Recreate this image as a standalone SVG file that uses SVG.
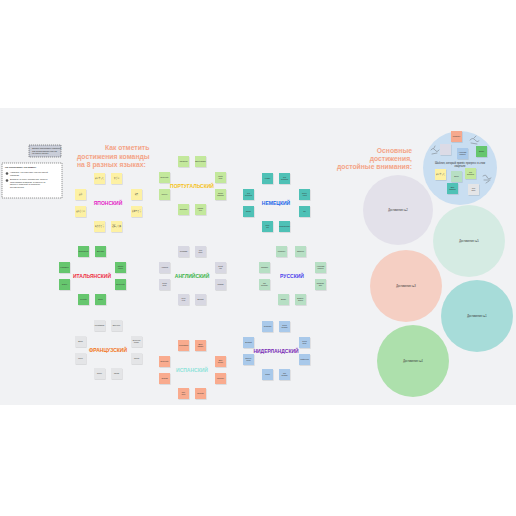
<svg xmlns="http://www.w3.org/2000/svg" width="516" height="516" viewBox="0 0 516 516">
<defs>
<style>
.bg{fill:#f1f2f4}
.sh{fill:#000;opacity:.12}
.t{font-family:"Liberation Sans","Noto Sans CJK JP",sans-serif;font-size:1.8px;fill:#333;text-anchor:middle}
.lbl{font-family:"Liberation Sans",Arial,sans-serif;font-size:5px;font-weight:bold;text-anchor:middle}
.title{font-family:"Liberation Sans",Arial,sans-serif;font-size:6.8px;font-weight:bold;fill:#f4a487}
.ct{font-family:"Liberation Sans",Arial,sans-serif;font-size:2.6px;fill:#333;text-anchor:middle}
.sm{font-family:"Liberation Sans",Arial,sans-serif;font-size:2px;fill:#333}
.jp{fill:#fdf1a4}.pt{fill:#c3e89c}.de{fill:#4fc1b6}.it{fill:#66c66e}.en{fill:#d8d8e2}.ru{fill:#b7dfc4}.fr{fill:#e4e5e7}.es{fill:#f9ab8e}.nl{fill:#a9c9ea}
.doodle{fill:none;stroke:#555;stroke-width:.4;stroke-linecap:round}
</style>
</defs>

<rect class="bg" x="0" y="108" width="516" height="297"/>

<!-- instructions -->
<g id="info-small">
<rect x="29" y="145" width="32" height="12" fill="#c9cdd8" stroke="#333" stroke-width=".5" stroke-dasharray="1.2 .8"/>
<text class="sm" x="32" y="149" font-size="1.8">Шаблон подготовлен командой</text>
<text class="sm" x="32" y="151.5" font-size="1.8">для празднования успехов</text>
<text class="sm" x="32" y="154" font-size="1.8">на разных языках</text>
</g>
<g id="info-box">
<rect x="2" y="163" width="60" height="35" fill="#fff" stroke="#333" stroke-width=".5" stroke-dasharray="1.2 .8"/>
<text class="sm" x="5" y="168" font-weight="bold" font-size="2.2">Как использовать этот шаблон:</text>
<circle cx="7" cy="173.5" r="1.3" fill="#555"/>
<text class="sm" x="10" y="173">Напишите, как отмечают успехи в вашей</text>
<text class="sm" x="10" y="175.6">компании.</text>
<circle cx="7" cy="180.5" r="1.3" fill="#555"/>
<text class="sm" x="10" y="180">Добавьте на доску достижения, которые</text>
<text class="sm" x="10" y="182.6">заслуживают внимания, и отметьте их</text>
<text class="sm" x="10" y="185.2">вместе с командой на любом из</text>
<text class="sm" x="10" y="187.8">восьми языков.</text>
</g>

<g id="title-left">
<text class="title" x="105" y="150">Как отметить</text>
<text class="title" x="77" y="158.5">достижения команды</text>
<text class="title" x="77" y="167">на 8 разных языках:</text>
</g>

<!-- Japanese -->
<g id="japanese" transform="translate(108,203)">
<g class="jp">
<rect class="sh" x="-13.4" y="-29.2" width="11" height="11"/><rect x="-14" y="-30" width="11" height="11"/>
<rect class="sh" x="3.6" y="-29.2" width="11" height="11"/><rect x="3" y="-30" width="11" height="11"/>
<rect class="sh" x="-32.4" y="-13.2" width="11" height="11"/><rect x="-33" y="-14" width="11" height="11"/>
<rect class="sh" x="23.6" y="-13.2" width="11" height="11"/><rect x="23" y="-14" width="11" height="11"/>
<rect class="sh" x="-32.4" y="3.8" width="11" height="11"/><rect x="-33" y="3" width="11" height="11"/>
<rect class="sh" x="23.6" y="3.8" width="11" height="11"/><rect x="23" y="3" width="11" height="11"/>
<rect class="sh" x="-13.4" y="18.8" width="11" height="11"/><rect x="-14" y="18" width="11" height="11"/>
<rect class="sh" x="3.6" y="18.8" width="11" height="11"/><rect x="3" y="18" width="11" height="11"/>
</g>
<text class="t" x="-8.5" y="-24">よくやった</text>
<text class="t" x="8.5" y="-24">すごい</text>
<text class="t" x="-27.5" y="-8">最高</text>
<text class="t" x="28.5" y="-8">完璧</text>
<text class="t" x="-27.5" y="9">素晴らしい</text>
<text class="t" x="28.5" y="9">おめでとう</text>
<text class="t" x="-8.5" y="24">ありがとう</text>
<text class="t" x="8.5" y="24">頑張ったね</text>
<text class="lbl" x="0" y="1.8" fill="#e41fc7">ЯПОНСКИЙ</text>
</g>

<!-- Portuguese -->
<g id="portuguese" transform="translate(192,186)">
<g class="pt">
<rect class="sh" x="-13.4" y="-29.2" width="11" height="11"/><rect x="-14" y="-30" width="11" height="11"/>
<rect class="sh" x="3.6" y="-29.2" width="11" height="11"/><rect x="3" y="-30" width="11" height="11"/>
<rect class="sh" x="-32.4" y="-13.2" width="11" height="11"/><rect x="-33" y="-14" width="11" height="11"/>
<rect class="sh" x="23.6" y="-13.2" width="11" height="11"/><rect x="23" y="-14" width="11" height="11"/>
<rect class="sh" x="-32.4" y="3.8" width="11" height="11"/><rect x="-33" y="3" width="11" height="11"/>
<rect class="sh" x="23.6" y="3.8" width="11" height="11"/><rect x="23" y="3" width="11" height="11"/>
<rect class="sh" x="-13.4" y="18.8" width="11" height="11"/><rect x="-14" y="18" width="11" height="11"/>
<rect class="sh" x="3.6" y="18.8" width="11" height="11"/><rect x="3" y="18" width="11" height="11"/>
</g>
<text class="t" x="-8.5" y="-24">Parabéns</text>
<text class="t" x="8.5" y="-24">Bom trabalho</text>
<text class="t" x="-27.5" y="-8">Excelente</text>
<text class="t" x="28.5" y="-9">Muito</text><text class="t" x="28.5" y="-7">bem</text>
<text class="t" x="-27.5" y="9">Incrível</text>
<text class="t" x="28.5" y="8">Ótimo</text><text class="t" x="28.5" y="10">trabalho</text>
<text class="t" x="-8.5" y="24">Obrigado</text>
<text class="t" x="8.5" y="23">Fantás-</text><text class="t" x="8.5" y="25">tico</text>
<text class="lbl" x="0" y="1.8" fill="#f5c21a">ПОРТУГАЛЬСКИЙ</text>
</g>

<!-- German -->
<g id="german" transform="translate(276,203)">
<g class="de">
<rect class="sh" x="-13.4" y="-29.2" width="11" height="11"/><rect x="-14" y="-30" width="11" height="11"/>
<rect class="sh" x="3.6" y="-29.2" width="11" height="11"/><rect x="3" y="-30" width="11" height="11"/>
<rect class="sh" x="-32.4" y="-13.2" width="11" height="11"/><rect x="-33" y="-14" width="11" height="11"/>
<rect class="sh" x="23.6" y="-13.2" width="11" height="11"/><rect x="23" y="-14" width="11" height="11"/>
<rect class="sh" x="-32.4" y="3.8" width="11" height="11"/><rect x="-33" y="3" width="11" height="11"/>
<rect class="sh" x="23.6" y="3.8" width="11" height="11"/><rect x="23" y="3" width="11" height="11"/>
<rect class="sh" x="-13.4" y="18.8" width="11" height="11"/><rect x="-14" y="18" width="11" height="11"/>
<rect class="sh" x="3.6" y="18.8" width="11" height="11"/><rect x="3" y="18" width="11" height="11"/>
</g>
<text class="t" x="-8.5" y="-24">Klasse</text>
<text class="t" x="8.5" y="-25">Gut</text><text class="t" x="8.5" y="-23">gemacht</text>
<text class="t" x="-27.5" y="-9">Gut</text><text class="t" x="-27.5" y="-7">gemacht</text>
<text class="t" x="28.5" y="-9">Super</text><text class="t" x="28.5" y="-7">Arbeit</text>
<text class="t" x="-27.5" y="9">Danke</text>
<text class="t" x="28.5" y="9">Toll</text>
<text class="t" x="-8.5" y="23">Sehr</text><text class="t" x="-8.5" y="25">gut</text>
<text class="t" x="8.5" y="24">Glückwunsch</text>
<text class="lbl" x="0" y="1.8" fill="#2266e8">НЕМЕЦКИЙ</text>
</g>

<!-- Italian -->
<g id="italian" transform="translate(92,276)">
<g class="it">
<rect class="sh" x="-13.4" y="-29.2" width="11" height="11"/><rect x="-14" y="-30" width="11" height="11"/>
<rect class="sh" x="3.6" y="-29.2" width="11" height="11"/><rect x="3" y="-30" width="11" height="11"/>
<rect class="sh" x="-32.4" y="-13.2" width="11" height="11"/><rect x="-33" y="-14" width="11" height="11"/>
<rect class="sh" x="23.6" y="-13.2" width="11" height="11"/><rect x="23" y="-14" width="11" height="11"/>
<rect class="sh" x="-32.4" y="3.8" width="11" height="11"/><rect x="-33" y="3" width="11" height="11"/>
<rect class="sh" x="23.6" y="3.8" width="11" height="11"/><rect x="23" y="3" width="11" height="11"/>
<rect class="sh" x="-13.4" y="18.8" width="11" height="11"/><rect x="-14" y="18" width="11" height="11"/>
<rect class="sh" x="3.6" y="18.8" width="11" height="11"/><rect x="3" y="18" width="11" height="11"/>
</g>
<text class="t" x="-8.5" y="-24">Complimenti</text>
<text class="t" x="8.5" y="-24">Ben fatto</text>
<text class="t" x="-27.5" y="-8">Fantastico</text>
<text class="t" x="28.5" y="-9">Ottimo</text><text class="t" x="28.5" y="-7">lavoro</text>
<text class="t" x="-27.5" y="9">Grazie</text>
<text class="t" x="28.5" y="9">Eccellente</text>
<text class="t" x="-8.5" y="24">Perfetto</text>
<text class="t" x="8.5" y="24">Bravo</text>
<text class="lbl" x="0" y="1.8" fill="#ee2f45">ИТАЛЬЯНСКИЙ</text>
</g>

<!-- English -->
<g id="english" transform="translate(192,276)">
<g class="en">
<rect class="sh" x="-13.4" y="-29.2" width="11" height="11"/><rect x="-14" y="-30" width="11" height="11"/>
<rect class="sh" x="3.6" y="-29.2" width="11" height="11"/><rect x="3" y="-30" width="11" height="11"/>
<rect class="sh" x="-32.4" y="-13.2" width="11" height="11"/><rect x="-33" y="-14" width="11" height="11"/>
<rect class="sh" x="23.6" y="-13.2" width="11" height="11"/><rect x="23" y="-14" width="11" height="11"/>
<rect class="sh" x="-32.4" y="3.8" width="11" height="11"/><rect x="-33" y="3" width="11" height="11"/>
<rect class="sh" x="23.6" y="3.8" width="11" height="11"/><rect x="23" y="3" width="11" height="11"/>
<rect class="sh" x="-13.4" y="18.8" width="11" height="11"/><rect x="-14" y="18" width="11" height="11"/>
<rect class="sh" x="3.6" y="18.8" width="11" height="11"/><rect x="3" y="18" width="11" height="11"/>
</g>
<text class="t" x="-8.5" y="-24">Congrats</text>
<text class="t" x="8.5" y="-25">Well</text><text class="t" x="8.5" y="-23">done</text>
<text class="t" x="-27.5" y="-8">Amazing</text>
<text class="t" x="28.5" y="-9">Great</text><text class="t" x="28.5" y="-7">job</text>
<text class="t" x="-27.5" y="8">Good</text><text class="t" x="-27.5" y="10">work</text>
<text class="t" x="28.5" y="9">Thanks</text>
<text class="t" x="-8.5" y="23">Keep</text><text class="t" x="-8.5" y="25">it up</text>
<text class="t" x="8.5" y="24">Brilliant</text>
<text class="lbl" x="0" y="1.8" fill="#3bb54a">АНГЛИЙСКИЙ</text>
</g>

<!-- Russian -->
<g id="russian" transform="translate(292,276)">
<g class="ru">
<rect class="sh" x="-15.4" y="-29.2" width="11" height="11"/><rect x="-16" y="-30" width="11" height="11"/>
<rect class="sh" x="3.6" y="-29.2" width="11" height="11"/><rect x="3" y="-30" width="11" height="11"/>
<rect class="sh" x="-32.4" y="-13.2" width="11" height="11"/><rect x="-33" y="-14" width="11" height="11"/>
<rect class="sh" x="23.6" y="-13.2" width="11" height="11"/><rect x="23" y="-14" width="11" height="11"/>
<rect class="sh" x="-32.4" y="3.8" width="11" height="11"/><rect x="-33" y="3" width="11" height="11"/>
<rect class="sh" x="23.6" y="3.8" width="11" height="11"/><rect x="23" y="3" width="11" height="11"/>
<rect class="sh" x="-13.4" y="18.8" width="11" height="11"/><rect x="-14" y="18" width="11" height="11"/>
<rect class="sh" x="3.6" y="18.8" width="11" height="11"/><rect x="3" y="18" width="11" height="11"/>
</g>
<text class="t" x="-10.5" y="-24">Молодец</text>
<text class="t" x="8.5" y="-24">Отлично</text>
<text class="t" x="-27.5" y="-8">Спасибо</text>
<text class="t" x="28.5" y="-9">Хорошая</text><text class="t" x="28.5" y="-7">работа</text>
<text class="t" x="-27.5" y="8">Так</text><text class="t" x="-27.5" y="10">держать</text>
<text class="t" x="28.5" y="8">Поздрав-</text><text class="t" x="28.5" y="10">ляю</text>
<text class="t" x="-8.5" y="24">Браво</text>
<text class="t" x="8.5" y="23">Велико-</text><text class="t" x="8.5" y="25">лепно</text>
<text class="lbl" x="0" y="1.8" fill="#4c44ec">РУССКИЙ</text>
</g>

<!-- French -->
<g id="french" transform="translate(108,350)">
<g class="fr">
<rect class="sh" x="-13.4" y="-29.2" width="11" height="11"/><rect x="-14" y="-30" width="11" height="11"/>
<rect class="sh" x="3.6" y="-29.2" width="11" height="11"/><rect x="3" y="-30" width="11" height="11"/>
<rect class="sh" x="-32.4" y="-13.2" width="11" height="11"/><rect x="-33" y="-14" width="11" height="11"/>
<rect class="sh" x="23.6" y="-13.2" width="11" height="11"/><rect x="23" y="-14" width="11" height="11"/>
<rect class="sh" x="-32.4" y="3.8" width="11" height="11"/><rect x="-33" y="3" width="11" height="11"/>
<rect class="sh" x="23.6" y="3.8" width="11" height="11"/><rect x="23" y="3" width="11" height="11"/>
<rect class="sh" x="-13.4" y="18.8" width="11" height="11"/><rect x="-14" y="18" width="11" height="11"/>
<rect class="sh" x="3.6" y="18.8" width="11" height="11"/><rect x="3" y="18" width="11" height="11"/>
</g>
<text class="t" x="-8.5" y="-24">Félicitations</text>
<text class="t" x="8.5" y="-24">Bien joué</text>
<text class="t" x="-27.5" y="-8">Bravo</text>
<text class="t" x="28.5" y="-9">Excellent</text><text class="t" x="28.5" y="-7">travail</text>
<text class="t" x="-27.5" y="9">Merci</text>
<text class="t" x="28.5" y="9">Génial</text>
<text class="t" x="-8.5" y="24">Super</text>
<text class="t" x="8.5" y="24">Parfait</text>
<text class="lbl" x="0" y="1.8" fill="#f27419">ФРАНЦУЗСКИЙ</text>
</g>

<!-- Spanish -->
<g id="spanish" transform="translate(192,370)">
<g class="es">
<rect class="sh" x="-13.4" y="-29.2" width="11" height="11"/><rect x="-14" y="-30" width="11" height="11"/>
<rect class="sh" x="3.6" y="-29.2" width="11" height="11"/><rect x="3" y="-30" width="11" height="11"/>
<rect class="sh" x="-32.4" y="-13.2" width="11" height="11"/><rect x="-33" y="-14" width="11" height="11"/>
<rect class="sh" x="23.6" y="-13.2" width="11" height="11"/><rect x="23" y="-14" width="11" height="11"/>
<rect class="sh" x="-32.4" y="3.8" width="11" height="11"/><rect x="-33" y="3" width="11" height="11"/>
<rect class="sh" x="23.6" y="3.8" width="11" height="11"/><rect x="23" y="3" width="11" height="11"/>
<rect class="sh" x="-13.4" y="18.8" width="11" height="11"/><rect x="-14" y="18" width="11" height="11"/>
<rect class="sh" x="3.6" y="18.8" width="11" height="11"/><rect x="3" y="18" width="11" height="11"/>
</g>
<text class="t" x="-8.5" y="-24">Felicidades</text>
<text class="t" x="8.5" y="-25">Buen</text><text class="t" x="8.5" y="-23">trabajo</text>
<text class="t" x="-27.5" y="-8">Excelente</text>
<text class="t" x="28.5" y="-9">Bien</text><text class="t" x="28.5" y="-7">hecho</text>
<text class="t" x="-27.5" y="9">Gracias</text>
<text class="t" x="28.5" y="9">Increíble</text>
<text class="t" x="-8.5" y="23">Muy</text><text class="t" x="-8.5" y="25">bien</text>
<text class="t" x="8.5" y="24">Perfecto</text>
<text class="lbl" x="0" y="1.8" fill="#8fe3da">ИСПАНСКИЙ</text>
</g>

<!-- Dutch -->
<g id="dutch" transform="translate(276,351)">
<g class="nl">
<rect class="sh" x="-13.4" y="-29.2" width="11" height="11"/><rect x="-14" y="-30" width="11" height="11"/>
<rect class="sh" x="3.6" y="-29.2" width="11" height="11"/><rect x="3" y="-30" width="11" height="11"/>
<rect class="sh" x="-32.4" y="-13.2" width="11" height="11"/><rect x="-33" y="-14" width="11" height="11"/>
<rect class="sh" x="23.6" y="-13.2" width="11" height="11"/><rect x="23" y="-14" width="11" height="11"/>
<rect class="sh" x="-32.4" y="3.8" width="11" height="11"/><rect x="-33" y="3" width="11" height="11"/>
<rect class="sh" x="23.6" y="3.8" width="11" height="11"/><rect x="23" y="3" width="11" height="11"/>
<rect class="sh" x="-13.4" y="18.8" width="11" height="11"/><rect x="-14" y="18" width="11" height="11"/>
<rect class="sh" x="3.6" y="18.8" width="11" height="11"/><rect x="3" y="18" width="11" height="11"/>
</g>
<text class="t" x="-8.5" y="-24">Geweldig</text>
<text class="t" x="8.5" y="-25">Goed</text><text class="t" x="8.5" y="-23">gedaan</text>
<text class="t" x="-27.5" y="-8">Bedankt</text>
<text class="t" x="28.5" y="-9">Goed</text><text class="t" x="28.5" y="-7">werk</text>
<text class="t" x="-27.5" y="8">Gefelici-</text><text class="t" x="-27.5" y="10">teerd</text>
<text class="t" x="28.5" y="9">Uitstekend</text>
<text class="t" x="-8.5" y="24">Prima</text>
<text class="t" x="8.5" y="23">Top</text><text class="t" x="8.5" y="25">gedaan</text>
<text class="lbl" x="0" y="1.8" fill="#7a2cb5">НИДЕРЛАНДСКИЙ</text>
</g>

<g id="title-right">
<text class="title" x="412" y="152.5" text-anchor="end">Основные</text>
<text class="title" x="412" y="160.5" text-anchor="end">достижения,</text>
<text class="title" x="412" y="168.5" text-anchor="end">достойные внимания:</text>
</g>

<g id="template-circle">
<circle cx="460" cy="168" r="37" fill="#c9def1"/>
<rect class="sh" x="451.6" y="131.8" width="11" height="11"/><rect x="451" y="131" width="11" height="11" fill="#f6a98e"/>
<rect class="sh" x="440.6" y="144.8" width="11" height="11"/><rect x="440" y="144" width="11" height="11" fill="#dcdbe6"/>
<rect class="sh" x="457.6" y="148.8" width="11" height="11"/><rect x="457" y="148" width="11" height="11" fill="#a9c9ea"/>
<rect class="sh" x="476.6" y="146.8" width="11" height="11"/><rect x="476" y="146" width="11" height="11" fill="#66c66e"/>
<rect class="sh" x="435.6" y="169.8" width="11" height="11"/><rect x="435" y="169" width="11" height="11" fill="#fdf1a4"/>
<rect class="sh" x="451.6" y="171.8" width="11" height="11"/><rect x="451" y="171" width="11" height="11" fill="#b7dfc4"/>
<rect class="sh" x="465.6" y="168.8" width="11" height="11"/><rect x="465" y="168" width="11" height="11" fill="#c3e89c"/>
<rect class="sh" x="447.6" y="183.8" width="11" height="11"/><rect x="447" y="183" width="11" height="11" fill="#4fc1b6"/>
<rect class="sh" x="468.6" y="184.8" width="11" height="11"/><rect x="468" y="184" width="11" height="11" fill="#e4e5e7"/>
<text class="t" x="456.5" y="137">Молодец</text>
<text class="t" x="462.5" y="153">Хорошая</text><text class="t" x="462.5" y="155">работа</text>
<text class="t" x="481.5" y="152">Браво</text>
<text class="t" x="440.5" y="175">よくやった</text>
<text class="t" x="456.5" y="177">Bravo</text>
<text class="t" x="470.5" y="173">Gut</text><text class="t" x="470.5" y="175">gemacht</text>
<text class="t" x="452.5" y="188">Bom</text><text class="t" x="452.5" y="190">trabalho</text>
<text class="t" x="473.5" y="189">Well</text><text class="t" x="473.5" y="191">done</text>
<text class="ct" x="460" y="164" font-size="2.4">Шаблон, который принёс прогресс в этом</text>
<text class="ct" x="460" y="167" font-size="2.4">квартале</text>
<path class="doodle" d="M470 140 q3 -3 5 0 t4 1 M471 143 l6 1 M474 138 l2 -2"/>
<path class="doodle" d="M431 150 q2 -3 4 0 q2 3 4 0 M432 154 l5 -1 M434 148 l1 -2"/>
<path class="doodle" d="M483 176 q3 -2 4 1 q1 3 4 1 M484 180 l6 0 M486 183 l3 -2"/>
</g>

<g id="achievement-2">
<circle cx="398" cy="210" r="35" fill="#e3e1ea"/>
<text class="ct" x="398" y="211">Достижение №2</text>
</g>
<g id="achievement-5">
<circle cx="469" cy="241" r="36" fill="#d5ebe3"/>
<text class="ct" x="469" y="242">Достижение №5</text>
</g>
<g id="achievement-3">
<circle cx="406" cy="286" r="36" fill="#f5cfc3"/>
<text class="ct" x="406" y="287">Достижение №3</text>
</g>
<g id="achievement-1">
<circle cx="477" cy="316" r="36" fill="#a7dcd9"/>
<text class="ct" x="477" y="317">Достижение №1</text>
</g>
<g id="achievement-4">
<circle cx="413" cy="361" r="36" fill="#ade0ac"/>
<text class="ct" x="413" y="362">Достижение №4</text>
</g>

<g id="connectors"/>
</svg>
